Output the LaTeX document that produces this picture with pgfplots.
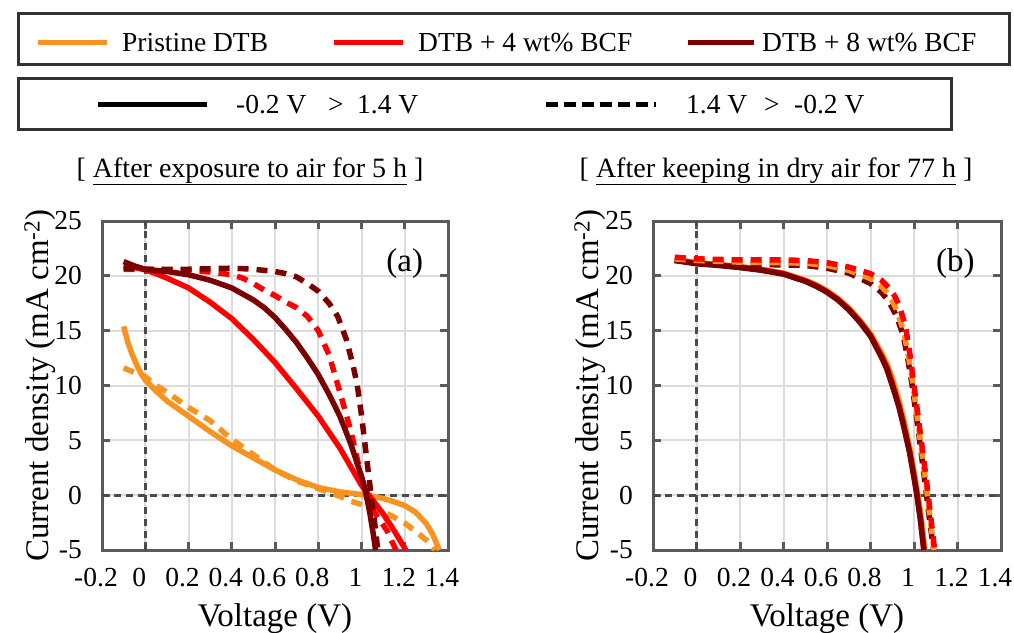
\documentclass[border=0pt]{standalone}
\usepackage{fontspec}
\setmainfont{Liberation Serif}
\usepackage{pgfplots}
\pgfplotsset{compat=1.18}
\definecolor{cOr}{RGB}{247,147,30}
\definecolor{cRd}{RGB}{255,0,0}
\definecolor{cDr}{RGB}{123,0,0}
\definecolor{framec}{RGB}{90,90,90}
\definecolor{zeroc}{RGB}{75,75,75}
\definecolor{gridc}{RGB}{220,220,220}
\definecolor{boxc}{RGB}{50,50,50}
\newcommand{\fs}[1]{\fontsize{#1}{#1}\selectfont}
\pgfplotsset{
  jv/.style={
    scale only axis, height=329pt,
    xmin=-0.2, xmax=1.4, ymin=-5, ymax=25,
    xtick={-0.2,0,0.2,0.4,0.6,0.8,1,1.2,1.4},
    xticklabels={-0.2,0,0.2,0.4,0.6,0.8,1,1.2,1.4},
    ytick={-5,0,5,10,15,20,25},
    yticklabels={-5,0,5,10,15,20,25},
    grid=major,
    major grid style={gridc, line width=2pt},
    axis line style={framec, line width=3pt},
    tick style={framec, line width=3pt},
    major tick length=8pt,
    tick align=inside,
    ticklabel style={font=\fs{27.5}},
    xticklabel style={inner sep=0pt, yshift=-18pt, xshift=-6pt},
    yticklabel style={inner sep=0pt, xshift=-20pt},
    xlabel={Voltage (V)},
    ylabel={Current density (mA cm\textsuperscript{-2})},
    label style={font=\fs{33}},
    xlabel style={at={(axis description cs:0.5,-0.161)}, anchor=north, inner sep=0pt},
  },
  cs/.style={line width=5.5pt, line join=round},
  cd/.style={line width=5.5pt, dash pattern=on 11pt off 8pt},
  zl/.style={zeroc, line width=3pt, dash pattern=on 7pt off 5pt},
}
\begin{document}
\begin{tikzpicture}
\useasboundingbox (0,0) rectangle (1014pt,-632pt);
% legend boxes
\draw[boxc, line width=3pt] (18pt,-13pt) rectangle (1009pt,-64pt);
\draw[boxc, line width=3pt] (18pt,-78pt) rectangle (951pt,-129pt);
\begin{scope}[every node/.style={inner sep=0pt, anchor=base west, font=\fs{27.5}}]
\draw[cOr, line width=5pt] (38pt,-42pt) -- (107pt,-42pt);
\node at (122pt,-51pt) {Pristine DTB};
\draw[cRd, line width=5pt] (334pt,-42pt) -- (403pt,-42pt);
\node at (418pt,-51pt) {DTB + 4 wt\% BCF};
\draw[cDr, line width=5pt] (688pt,-42pt) -- (754pt,-42pt);
\node at (762pt,-51pt) {DTB + 8 wt\% BCF};
\draw[black, line width=5pt] (98pt,-104pt) -- (207pt,-104pt);
\node at (236pt,-113pt) {-0.2 V};
\node at (328pt,-113pt) {>};
\node at (357pt,-113pt) {1.4 V};
\draw[black, line width=5pt, dash pattern=on 12pt off 6pt] (546pt,-104pt) -- (656pt,-104pt);
\node at (686pt,-113pt) {1.4 V};
\node at (764pt,-113pt) {>};
\node at (794pt,-113pt) {-0.2 V};
\end{scope}
% titles
\node[anchor=base, inner sep=0pt, font=\fs{28}] at (250pt,-177pt) {[ \underline{After exposure to air for 5 h} ]};
\node[anchor=base, inner sep=0pt, font=\fs{28}] at (776pt,-177pt) {[ \underline{After keeping in dry air for 77 h} ]};

% ---------- panel (a)
\begin{axis}[jv, width=346pt, at={(102pt,-550pt)}, anchor=south west,
  ylabel style={at={(axis description cs:-0.179,0.5)}, anchor=center}]
\addplot[zl] coordinates {(0,-5) (0,25)};
\addplot[zl] coordinates {(-0.2,0) (1.4,0)};
% pristine solid
\addplot[cs, cOr] coordinates {(-0.10,15.4) (-0.08,13.9) (-0.06,12.8) (-0.04,11.9) (-0.02,11.1) (0.00,10.5) (0.05,9.5) (0.10,8.6) (0.15,7.9) (0.20,7.2) (0.30,5.8) (0.40,4.5) (0.50,3.4) (0.60,2.3) (0.70,1.4) (0.80,0.7) (0.90,0.3) (1.00,0.05) (1.05,-0.1) (1.10,-0.3) (1.15,-0.6) (1.20,-0.95) (1.25,-1.55) (1.30,-2.6) (1.33,-3.6) (1.36,-5.0)};
% pristine dashed
\addplot[cd, cOr] coordinates {(-0.10,11.6) (-0.05,11.2) (0.00,10.8) (0.05,10.0) (0.10,9.4) (0.20,8.0) (0.30,6.8) (0.40,5.1) (0.50,3.7) (0.60,2.3) (0.70,1.3) (0.80,0.6) (0.90,-0.1) (0.95,-0.55) (1.00,-0.85) (1.05,-1.15) (1.10,-1.5) (1.15,-2.0) (1.20,-2.55) (1.25,-3.3) (1.30,-4.1) (1.34,-5.0)};
% 4 wt% solid
\addplot[cs, cRd] coordinates {(-0.10,20.9) (-0.05,20.75) (0.00,20.55) (0.05,20.2) (0.10,19.8) (0.15,19.35) (0.20,18.9) (0.30,17.6) (0.40,16.1) (0.50,14.2) (0.60,12.1) (0.70,9.7) (0.80,7.2) (0.90,4.3) (1.00,0.9) (1.05,-0.4) (1.10,-1.7) (1.15,-3.2) (1.205,-5.0)};
% 4 wt% dashed
\addplot[cd, cRd] coordinates {(-0.10,20.6) (0.00,20.6) (0.10,20.55) (0.20,20.5) (0.30,20.35) (0.40,20.1) (0.45,19.8) (0.50,19.3) (0.55,18.7) (0.60,18.2) (0.65,17.6) (0.70,17.1) (0.75,16.3) (0.80,15.0) (0.85,12.8) (0.90,9.4) (0.95,5.9) (1.00,1.6) (1.03,-0.6) (1.06,-1.6) (1.09,-2.4) (1.12,-3.3) (1.14,-4.2) (1.16,-5.0)};
% 8 wt% solid
\addplot[cs, cDr] coordinates {(-0.10,21.3) (-0.05,20.9) (0.00,20.6) (0.10,20.4) (0.20,20.1) (0.30,19.6) (0.40,18.9) (0.50,17.8) (0.55,17.1) (0.60,16.2) (0.65,15.1) (0.70,13.9) (0.75,12.5) (0.80,11.0) (0.85,9.2) (0.90,7.2) (0.95,4.7) (1.00,1.7) (1.02,0.3) (1.04,-1.8) (1.055,-3.6) (1.065,-5.0)};
% 8 wt% dashed
\addplot[cd, cDr] coordinates {(-0.10,20.7) (0.00,20.6) (0.10,20.6) (0.20,20.6) (0.30,20.65) (0.40,20.7) (0.50,20.6) (0.60,20.4) (0.65,20.2) (0.70,19.9) (0.75,19.3) (0.80,18.6) (0.85,17.5) (0.89,16.3) (0.93,14.2) (0.96,11.9) (0.98,10.1) (1.00,7.3) (1.02,4.0) (1.04,0.7) (1.055,-1.6) (1.065,-3.2) (1.075,-5.0)};
\node[font=\fs{33}, inner sep=0pt] at (axis cs:1.2,21.1) {(a)};
\end{axis}

% ---------- panel (b)
\begin{axis}[jv, width=348pt, at={(653pt,-550pt)}, anchor=south west,
  ylabel style={at={(axis description cs:-0.181,0.5)}, anchor=center}]
\addplot[zl] coordinates {(0,-5) (0,25)};
\addplot[zl] coordinates {(-0.2,0) (1.4,0)};
% solid curves
\addplot[cs, cOr] coordinates {(-0.10,21.5) (0.00,21.2) (0.10,21.05) (0.20,20.85) (0.30,20.6) (0.40,20.25) (0.50,19.6) (0.55,19.2) (0.60,18.65) (0.65,17.95) (0.70,17.1) (0.75,16.0) (0.80,14.75) (0.85,13.0) (0.875,12.0) (0.90,10.7) (0.93,8.7) (0.95,7.2) (0.98,4.4) (1.00,2.2) (1.02,-0.2) (1.035,-2.3) (1.05,-5.0)};
\addplot[cs, cRd] coordinates {(-0.10,21.45) (0.00,21.15) (0.10,21.0) (0.20,20.8) (0.30,20.55) (0.40,20.2) (0.50,19.55) (0.55,19.1) (0.60,18.55) (0.65,17.85) (0.70,16.95) (0.75,15.85) (0.80,14.55) (0.85,12.7) (0.875,11.7) (0.90,10.2) (0.93,8.2) (0.95,6.6) (0.98,3.9) (1.00,1.7) (1.015,-0.1) (1.03,-2.3) (1.046,-5.0)};
\addplot[cs, cDr] coordinates {(-0.10,21.4) (0.00,21.1) (0.10,20.95) (0.20,20.75) (0.30,20.5) (0.40,20.15) (0.50,19.5) (0.55,19.05) (0.60,18.5) (0.65,17.8) (0.70,16.9) (0.75,15.8) (0.80,14.5) (0.85,12.6) (0.875,11.5) (0.90,10.0) (0.93,8.1) (0.95,6.5) (0.98,3.9) (1.00,1.6) (1.012,0.2) (1.03,-2.3) (1.045,-5.0)};
% dashed curves
\addplot[cd, cDr] coordinates {(-0.10,21.4) (0.00,21.2) (0.20,21.05) (0.40,21.0) (0.50,20.95) (0.60,20.7) (0.70,20.25) (0.80,19.3) (0.85,18.5) (0.875,17.9) (0.90,17.1) (0.92,16.3) (0.95,14.6) (0.97,12.6) (0.99,10.2) (1.02,5.9) (1.05,1.2) (1.07,-2.0) (1.09,-5.0)};
\addplot[cd, cOr] coordinates {(-0.10,21.55) (0.00,21.4) (0.20,21.25) (0.40,21.2) (0.50,21.15) (0.60,20.95) (0.70,20.5) (0.80,19.75) (0.85,19.05) (0.875,18.5) (0.90,17.7) (0.92,16.9) (0.95,15.1) (0.97,13.2) (0.99,10.8) (1.02,6.4) (1.05,1.8) (1.07,-1.4) (1.092,-5.0)};
\addplot[cd, cRd] coordinates {(-0.10,21.7) (0.00,21.55) (0.20,21.45) (0.40,21.45) (0.50,21.4) (0.60,21.2) (0.70,20.8) (0.80,20.2) (0.85,19.6) (0.88,19.0) (0.91,18.2) (0.93,17.4) (0.96,15.5) (0.98,13.0) (1.00,10.0) (1.03,5.5) (1.06,0.9) (1.08,-2.5) (1.095,-5.0)};
\node[font=\fs{33}, inner sep=0pt] at (axis cs:1.19,21.1) {(b)};
\end{axis}
\end{tikzpicture}
\end{document}
